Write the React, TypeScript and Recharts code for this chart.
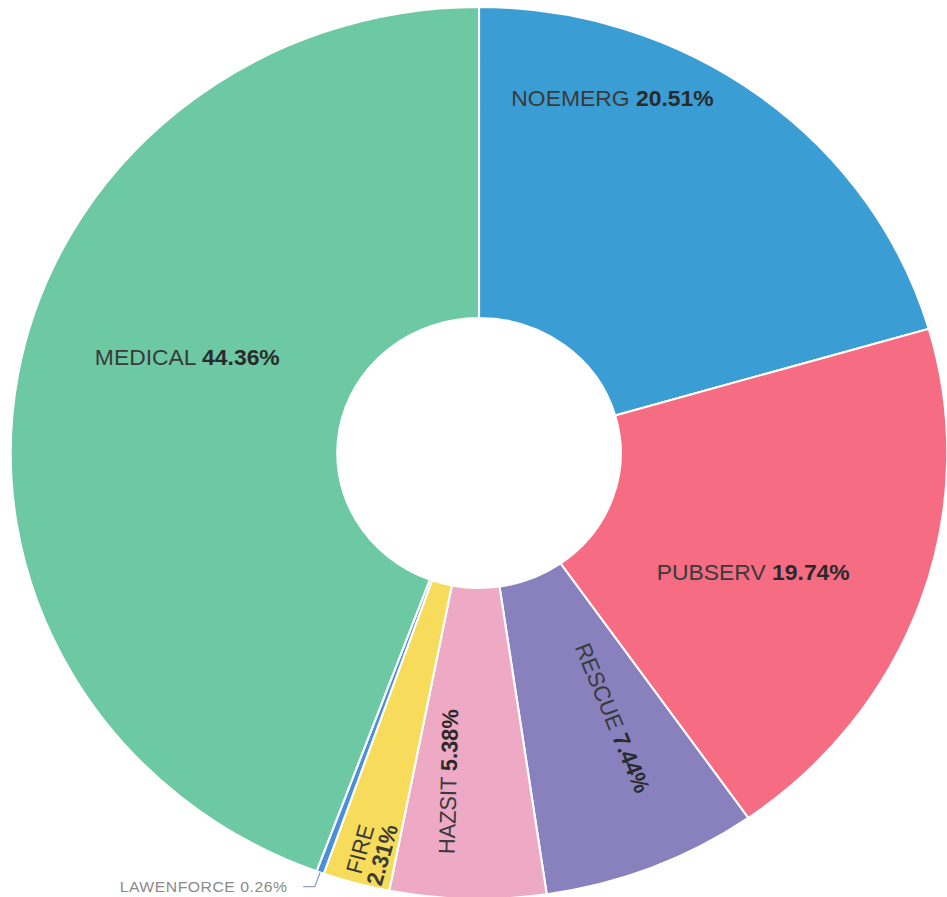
import React from 'react';
import { PieChart, Pie, Cell } from 'recharts';

// ---- data ----
const categories = ['NOEMERG', 'PUBSERV', 'RESCUE', 'HAZSIT', 'FIRE', 'LAWENFORCE', 'MEDICAL'];
const shares = [20.51, 19.74, 7.44, 5.38, 2.31, 0.26, 44.36];
const colors = ['#3A9ED4', '#F66C82', '#8980BE', '#EEAAC5', '#F6DC5A', '#4A90D9', '#6DC9A4'];

const data = categories.map((name, i) => ({ name, value: shares[i] }));

// ---- label placement (polar offsets from the pie centre) ----
type Placement = { angle: number; r: number; radial: boolean; split?: boolean };
const labelPlacement: Record<string, Placement> = {
  NOEMERG: { angle: 70.3, r: 377, radial: false },
  PUBSERV: { angle: -24.5, r: 287, radial: false },
  RESCUE: { angle: -64.3, r: 294, radial: true },
  HAZSIT: { angle: -95.1, r: 330, radial: true },
  FIRE: { angle: -104.3, r: 412, radial: true, split: true },
  MEDICAL: { angle: 160.9, r: 294, radial: false },
};

const RAD = Math.PI / 180;
const polar = (cx: number, cy: number, r: number, a: number) => ({
  x: cx + r * Math.cos(a * RAD),
  y: cy - r * Math.sin(a * RAD),
});

const FONT = '"Liberation Sans", Arial, Helvetica, sans-serif';
const LABEL_SIZE = 21.8;

function renderLabel(props: any) {
  const { cx, cy, outerRadius, midAngle, index } = props;
  const name = categories[index];
  const pct = shares[index].toFixed(2) + '%';
  if (name === 'LAWENFORCE') {
    const p2 = polar(cx, cy, outerRadius + 15, midAngle);
    return (
      <text
        key={`lbl-${index}`}
        x={p2.x - 26}
        y={p2.y}
        dy="0.35em"
        textAnchor="end"
        fontSize={15}
        fontFamily={FONT}
        fill="#8a8a8a"
        letterSpacing={0.5}
      >
        {name + ' ' + pct}
      </text>
    );
  }
  const pl = labelPlacement[name];
  const p = polar(cx, cy, pl.r, pl.angle);
  let rot = 0;
  if (pl.radial) {
    rot = -midAngle;
    while (rot > 90) rot -= 180;
    while (rot <= -90) rot += 180;
  }
  if (pl.split) {
    return (
      <text
        key={`lbl-${index}`}
        x={p.x}
        y={p.y}
        textAnchor="middle"
        fontSize={LABEL_SIZE}
        fontFamily={FONT}
        fill="#3a3a3a"
        transform={`rotate(${rot} ${p.x} ${p.y})`}
      >
        <tspan x={p.x} dy="-0.2em">{name}</tspan>
        <tspan x={p.x} dy="1.0em" fontWeight="bold">{pct}</tspan>
      </text>
    );
  }
  return (
    <text
      key={`lbl-${index}`}
      x={p.x}
      y={p.y}
      dy="0.36em"
      textAnchor="middle"
      fontSize={LABEL_SIZE}
      fontFamily={FONT}
      fill="#3a3a3a"
      transform={`rotate(${rot} ${p.x} ${p.y})`}
    >
      <tspan>{name} </tspan>
      <tspan fontWeight="bold" fill="#2a2a2a">{pct}</tspan>
    </text>
  );
}

function renderLabelLine(props: any) {
  const { cx, cy, outerRadius, midAngle, index } = props;
  if (categories[index] !== 'LAWENFORCE') return <g key={`ll-${index}`} />;
  const p1 = polar(cx, cy, outerRadius, midAngle);
  const p2 = polar(cx, cy, outerRadius + 15, midAngle);
  return (
    <path
      key={`ll-${index}`}
      d={`M${p1.x},${p1.y}L${p2.x},${p2.y}L${p2.x - 11},${p2.y}`}
      stroke="#8fa3bf"
      strokeWidth={1.3}
      fill="none"
    />
  );
}

export default function App() {
  return (
    <div
      style={{
        position: 'absolute',
        left: 0,
        top: 0,
        width: 947,
        height: 897,
        overflow: 'hidden',
        background: '#fff',
      }}
    >
      <div style={{ transform: 'scaleX(1.05)', transformOrigin: '0 0', width: 902, height: 897 }}>
        <PieChart width={902} height={897} margin={{ top: 0, right: 0, bottom: 0, left: 0 }}>
          <Pie
            data={data}
            dataKey="value"
            nameKey="name"
            cx={456.2}
            cy={453}
            innerRadius={135}
            outerRadius={446}
            startAngle={90}
            endAngle={-270}
            stroke="#ffffff"
            strokeWidth={2}
            label={renderLabel}
            labelLine={renderLabelLine}
            isAnimationActive={false}
          >
            {data.map((d, i) => (
              <Cell key={d.name} fill={colors[i]} />
            ))}
          </Pie>
        </PieChart>
      </div>
    </div>
  );
}
